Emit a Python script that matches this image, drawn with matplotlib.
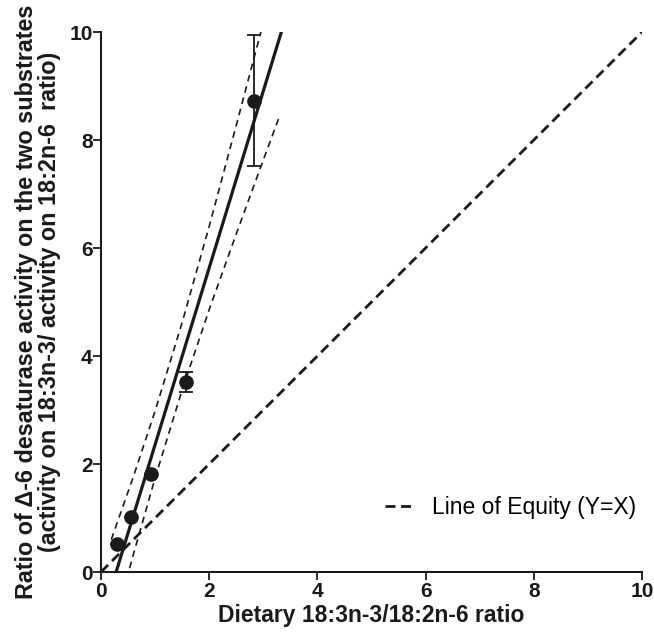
import numpy as np
import matplotlib
matplotlib.use("Agg")
import matplotlib.pyplot as plt

# Data
diet_ratio = [0.30, 0.55, 0.92, 1.57, 2.82]
activity_ratio = [0.51, 1.02, 1.81, 3.52, 8.73]
activity_err = [0.0, 0.0, 0.0, 0.18, 1.21]

# 95% confidence band of the regression
band_x = [0.19, 0.6, 1.0, 1.5, 2.0, 2.5, 3.0, 3.3]
band_upper = [0.60, 1.77, 2.98, 4.62, 6.40, 8.27, 10.17, 11.32]
band_lower = [-1.18, 0.33, 1.74, 3.37, 4.86, 6.26, 7.63, 8.44]

equity_x = [0, 10]
equity_y = [0, 10]

x_ticks = [0, 2, 4, 6, 8, 10]
y_ticks = [0, 2, 4, 6, 8, 10]

plt.rcParams['font.family'] = ['Liberation Sans', 'DejaVu Sans']

fig = plt.figure(figsize=(6.54, 6.35), dpi=100)
ax = fig.add_axes([0.1544, 0.0992, 0.8273, 0.8504])

ink = '#1a1a1a'

# regression line
slope, intercept = np.polyfit(diet_ratio, activity_ratio, 1)
fit_x = np.array([0.0, 3.6])
ax.plot(fit_x, slope * fit_x + intercept, color=ink, lw=2.3, solid_capstyle='butt')

# confidence band
ax.plot(band_x, band_upper, color=ink, lw=1.2, dashes=(4, 3))
ax.plot(band_x, band_lower, color=ink, lw=1.2, dashes=(4, 3))

# line of equity
ax.plot(equity_x, equity_y, color=ink, lw=2.0, dashes=(3.6, 2.0),
        label='Line of Equity (Y=X)')

# data points
ax.errorbar(diet_ratio, activity_ratio, yerr=activity_err, fmt='o',
            color=ink, ms=9.5, elinewidth=1.3, capsize=5, capthick=1.3,
            zorder=5)

ax.set_xlim(0, 10)
ax.set_ylim(0, 10)
ax.set_xticks(x_ticks)
ax.set_yticks(y_ticks)
for s in ['top', 'right']:
    ax.spines[s].set_visible(False)
for s in ['left', 'bottom']:
    ax.spines[s].set_linewidth(1.5)
    ax.spines[s].set_color(ink)
ax.tick_params(direction='out', length=5.5, width=1.3, colors=ink,
               labelsize=15)
ax.tick_params(axis='y', pad=0.5)
ax.tick_params(axis='x', pad=2)
for lab in ax.get_xticklabels() + ax.get_yticklabels():
    lab.set_fontweight('bold')

ax.set_xlabel('Dietary 18:3n-3/18:2n-6 ratio', fontsize=16.5,
              fontweight='bold', color=ink, labelpad=2)
ax.set_ylabel('Ratio of \u0394-6 desaturase activity on the two substrates\n'
              '(activity on 18:3n-3/ activity on 18:2n-6  ratio)',
              fontsize=16.8, fontweight='bold', color=ink, labelpad=6,
              linespacing=1.0)

leg = ax.legend(loc='center left', bbox_to_anchor=(0.525, 0.12), frameon=False,
                fontsize=16.5, handlelength=1.3, handletextpad=0.75,
                borderaxespad=0, borderpad=0)

fig.savefig('out.png', dpi=100)
